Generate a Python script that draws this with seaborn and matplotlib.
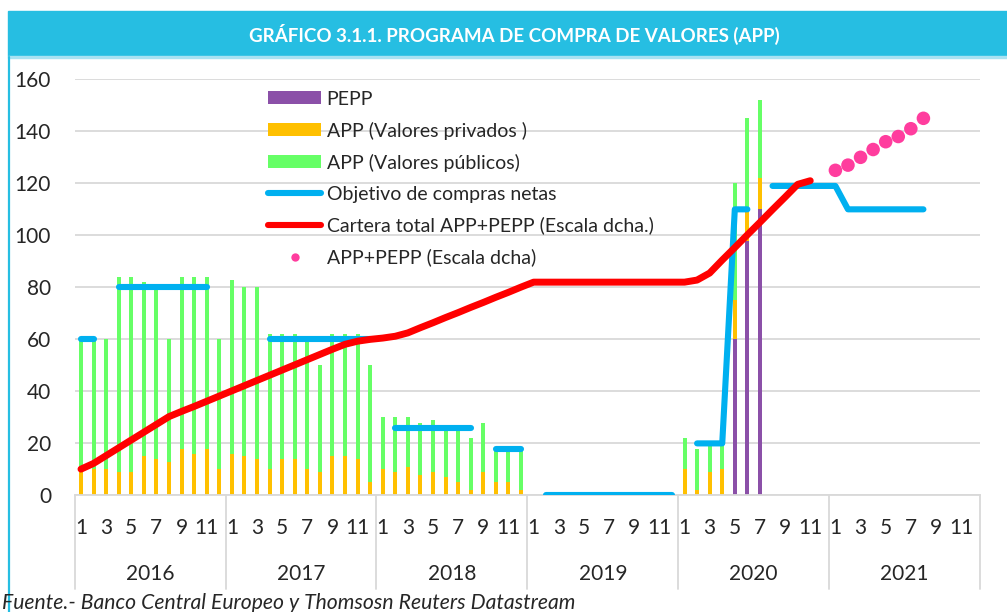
import numpy as np
import pandas as pd
import matplotlib
matplotlib.use("Agg")
import matplotlib.pyplot as plt
from matplotlib.patches import Patch, Rectangle
from matplotlib.lines import Line2D
import seaborn as sns

# ---------------------------------------------------------------------------
# Data: monthly figures, January 2016 - December 2021 (bn EUR)
# ---------------------------------------------------------------------------
years = [2016, 2017, 2018, 2019, 2020, 2021]
months = list(range(1, 13))

nan = np.nan

pepp = (
    [0] * 12 +                                   # 2016
    [0] * 12 +                                   # 2017
    [0] * 12 +                                   # 2018
    [0] * 12 +                                   # 2019
    [0, 0, 0, 0, 60, 98, 110, 0, 0, 0, 0, 0] +   # 2020
    [0] * 12                                     # 2021
)

app_privados = (
    [9, 10, 10, 9, 9, 15, 14, 13, 18, 16, 18, 10] +
    [16, 15, 14, 10, 14, 14, 10, 9, 15, 15, 14, 5] +
    [10, 9, 11, 8, 9, 7, 5, 2, 9, 5, 5, 2] +
    [0] * 12 +
    [10, 2, 9, 10, 15, 11, 12, 0, 0, 0, 0, 0] +
    [0] * 12
)

app_publicos = (
    [51, 50, 50, 75, 75, 67, 65, 47, 66, 68, 66, 50] +
    [67, 65, 66, 52, 48, 48, 49, 41, 47, 47, 48, 45] +
    [20, 21, 19, 20, 20, 18, 20, 20, 19, 12, 12, 15] +
    [0] * 12 +
    [12, 16, 10, 10, 45, 36, 30, 0, 0, 0, 0, 0] +
    [0] * 12
)

objetivo = (
    [60, 60, nan, 80, 80, 80, 80, 80, 80, 80, 80, nan] +
    [nan, nan, nan, 60, 60, 60, 60, 60, 60, 60, 60, 60] +
    [nan, 26, 26, 26, 26, 26, 26, 26, nan, 18, 18, 18] +
    [nan, 0, 0, 0, 0, 0, 0, 0, 0, 0, 0, 0] +
    [nan, 20, 20, 20, 110, 110, nan, 119, 119, 119, 119, 119] +
    [119, 110, 110, 110, 110, 110, 110, 110, nan, nan, nan, nan]
)

cartera = (
    [10.1, 12.3, 15.3, 18.3, 21.3, 24.3, 27.3, 30.3, 32.3, 34.2, 36.2, 38.2] +
    [40.2, 42.2, 44.2, 46.2, 48.2, 50.2, 52.2, 54.2, 56.2, 58.1, 59.3, 60.0] +
    [60.5, 61.2, 62.5, 64.5, 66.4, 68.4, 70.3, 72.3, 74.2, 76.2, 78.1, 80.1] +
    [82] * 12 +
    [82, 82.8, 85.5, 90.5, 95.3, 100.2, 105, 109.9, 114.7, 119.6, 121, nan] +
    [nan] * 12
)

app_pepp_2021 = [125, 127, 130, 133, 136, 138, 141, 145] + [nan] * 4
app_pepp = [nan] * 60 + app_pepp_2021

# ---------------------------------------------------------------------------
df = pd.DataFrame({
    "year": np.repeat(years, 12),
    "month": months * len(years),
    "pepp": pepp,
    "privados": app_privados,
    "publicos": app_publicos,
    "objetivo": objetivo,
    "cartera": cartera,
    "app_pepp": app_pepp,
})
df["idx"] = np.arange(len(df))
df["h_pepp"] = df["pepp"]
df["h_priv"] = df["pepp"] + df["privados"]
df["h_total"] = df["h_priv"] + df["publicos"]

C_PEPP = "#8B50A8"
C_PRIV = "#FFC000"
C_PUB = "#66FF66"
C_OBJ = "#00B0F0"
C_CART = "#FF0000"
C_DOTS = "#FF3D9E"
C_GRID = "#D9D9D9"
C_HEAD = "#26BEE2"

sns.set_style("white")
plt.rcParams["font.family"] = ["Lato", "DejaVu Sans"]

fig = plt.figure(figsize=(10.07, 6.12), dpi=100)
fig.patch.set_facecolor("white")
ax = fig.add_axes([0.07418, 0.19052, 0.8990, 0.6799])

order = list(range(len(df)))
bw = 0.32
# stacked columns drawn as overlapping cumulative heights
for col, c in (("h_total", C_PUB), ("h_priv", C_PRIV), ("h_pepp", C_PEPP)):
    sns.barplot(data=df, x="idx", y=col, order=order, color=c, width=bw,
                errorbar=None, linewidth=0, saturation=1, ax=ax, zorder=2)


def segments(series):
    vals = series.to_numpy(dtype=float)
    ok = ~np.isnan(vals)
    start = None
    for i, flag in enumerate(list(ok) + [False]):
        if flag and start is None:
            start = i
        elif not flag and start is not None:
            yield start, i
            start = None


for a, b in segments(df["objetivo"]):
    seg = df.iloc[a:b]
    sns.lineplot(x=seg["idx"], y=seg["objetivo"], color=C_OBJ, lw=4.4,
                 solid_capstyle="round", legend=False, ax=ax, zorder=4)

for a, b in segments(df["cartera"]):
    seg = df.iloc[a:b]
    sns.lineplot(x=seg["idx"], y=seg["cartera"], color=C_CART, lw=5.0,
                 solid_capstyle="round", solid_joinstyle="round",
                 legend=False, ax=ax, zorder=5)

dots = df.dropna(subset=["app_pepp"])
sns.scatterplot(x=dots["idx"], y=dots["app_pepp"], color=C_DOTS, s=95,
                edgecolor="none", legend=False, ax=ax, zorder=6)

# axes styling
ax.set_xlim(-0.5, len(df) - 0.5)
ax.set_ylim(0, 160)
ax.set_yticks(range(0, 161, 20))
ax.set_yticklabels([str(v) for v in range(0, 161, 20)])
odd = df[df["month"] % 2 == 1]
ax.set_xticks(odd["idx"].to_list())
ax.set_xticklabels([str(m) for m in odd["month"]])
ax.set_xlabel("")
ax.set_ylabel("")
ax.tick_params(axis="x", length=0, pad=16, labelsize=15)
ax.tick_params(axis="y", length=0, pad=17, labelsize=15)
for lab in ax.get_yticklabels():
    lab.set_horizontalalignment("right")
ax.yaxis.grid(True, color=C_GRID, lw=1.3)
ax.xaxis.grid(False)
ax.set_axisbelow(True)
for s in ("top", "right", "left"):
    ax.spines[s].set_visible(False)
ax.spines["bottom"].set_color(C_GRID)
ax.spines["bottom"].set_linewidth(1.3)

# year separators and year labels below the month ticks
trans = ax.get_xaxis_transform()
for k, yr in enumerate(years):
    x0 = df.loc[df["year"] == yr, "idx"].min() - 0.5
    ax.plot([x0, x0], [0, -0.225], transform=trans, color=C_GRID, lw=1.3,
            clip_on=False, zorder=1)
    ax.text(x0 + 6, -0.188, str(yr), transform=trans, ha="center",
            va="center", fontsize=15)
xe = len(df) - 0.5
ax.plot([xe, xe], [0, -0.225], transform=trans, color=C_GRID, lw=1.3,
        clip_on=False, zorder=1)

# legend
handles = [
    Patch(facecolor=C_PEPP, edgecolor="none"),
    Patch(facecolor=C_PRIV, edgecolor="none"),
    Patch(facecolor=C_PUB, edgecolor="none"),
    Line2D([], [], color=C_OBJ, lw=4.4, solid_capstyle="round"),
    Line2D([], [], color=C_CART, lw=4.4, solid_capstyle="round"),
    Line2D([], [], color=C_DOTS, marker="o", linestyle="none", markersize=6,
           markeredgewidth=0),
]
labels = [
    "PEPP",
    "APP (Valores privados )",
    "APP (Valores públicos)",
    "Objetivo de compras netas",
    "Cartera total APP+PEPP (Escala dcha.)",
    "APP+PEPP (Escala dcha)",
]
ax.legend(handles, labels, loc="upper left", bbox_to_anchor=(0.2135, 0.973),
          frameon=False, fontsize=14.0, handlelength=2.75, handletextpad=0.27,
          handleheight=0.66, labelspacing=0.72, borderpad=0, borderaxespad=0)

# header band, frame line and texts
W, H = 1007.0, 612.0
fig.patches.append(Rectangle((8 / W, 1 - 56 / H), 1 - 8 / W, 45 / H,
                             transform=fig.transFigure, color=C_HEAD, zorder=0))
fig.patches.append(Rectangle((8 / W, 1 - 58 / H), 1 - 8 / W, 2 / H,
                             transform=fig.transFigure, color="#A8E2F2", zorder=0))
fig.lines.append(Line2D([8.8 / W, 8.8 / W], [0, 1 - 57 / H],
                        transform=fig.transFigure, color=C_HEAD, lw=1.6))
fig.text(514 / W, 1 - 34 / H, "GRÁFICO 3.1.1. PROGRAMA DE COMPRA DE VALORES (APP)",
         ha="center", va="center", color="white", fontweight="bold", fontsize=13.5)
fig.text(2 / W, 1 - 603 / H,
         "Fuente.- Banco Central Europeo y Thomsosn Reuters Datastream",
         ha="left", va="center", style="italic", fontsize=15.2)

fig.savefig("out.png", dpi=100, facecolor="white")
